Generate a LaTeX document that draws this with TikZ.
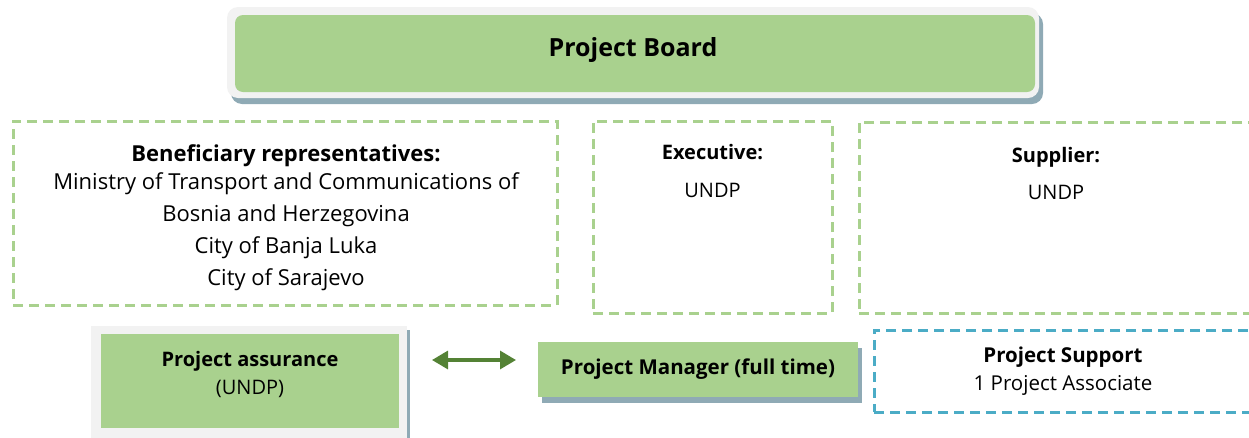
\documentclass[tikz,border=0pt]{standalone}
\usepackage{fontspec}
\setmainfont{Open Sans}
\usepackage{xcolor}
\usetikzlibrary{arrows.meta, shadows}

\definecolor{boardgreen}{HTML}{A9D18E}
\definecolor{framegray}{HTML}{F2F2F2}
\definecolor{shadowblue}{HTML}{8FAAB5}
\definecolor{arrowgreen}{HTML}{548235}
\definecolor{supportblue}{HTML}{4BACC6}

\begin{document}
\begin{tikzpicture}[x=1pt, y=-1pt,
    frame/.style={fill=framegray, outer sep=0pt, inner sep=0pt},
    board/.style={fill=boardgreen, outer sep=0pt, align=center},
    group/.style={draw=boardgreen, line width=3pt, dash pattern=on 10pt off 6pt, outer sep=0pt, align=center},
    support/.style={draw=supportblue, line width=3pt, dash pattern=on 10pt off 6pt, outer sep=0pt, align=center},
    shade/.style 2 args={drop shadow={shadow xshift=#1, shadow yshift=-#2, fill=shadowblue, opacity=1}},
    arr/.style={{Triangle[length=16pt, width=18pt]}-{Triangle[length=16pt, width=18pt]}, line width=3.2pt, draw=arrowgreen},
]
\useasboundingbox (0,0) rectangle (1249,437);
\clip (0,0) rectangle (1249,437);

\node[frame, rounded corners=11pt, minimum width=812pt, minimum height=91pt, shade={4pt}{6pt}] (boardframe) at (633,52.5) {};
\node[board, rounded corners=8pt, minimum width=800pt, minimum height=77pt] (board) at (635,53.5) {};
\node[font=\fontsize{25}{30}\selectfont\bfseries] (boardlabel) at (633,50) {Project Board};

\node[group, minimum width=544pt, minimum height=184pt] (benef) at (285,213) {};
\node[align=center, font=\fontsize{22}{32}\selectfont] (beneflabel) at (286,218)
    {\textbf{Beneficiary representatives:}\\[-4pt]Ministry of Transport and Communications of\\Bosnia and Herzegovina\\City of Banja Luka\\City of Sarajevo};
\node[group, minimum width=239pt, minimum height=192pt] (exec) at (712.5,217) {};
\node[group, minimum width=392pt, minimum height=191pt] (supp) at (1055,217.5) {};
\node[align=center, font=\fontsize{20}{38}\selectfont] (execlabel) at (712.5,171) {\textbf{Executive:}\\UNDP};
\node[align=center, font=\fontsize{20}{37}\selectfont] (supplabel) at (1056,173.5) {\textbf{Supplier:}\\UNDP};

\node[frame, minimum width=316pt, minimum height=125pt, shade={3pt}{4pt}] (assurframe) at (249,388.5) {};
\node[board, minimum width=298pt, minimum height=94pt] (assur) at (250,381) {};
\node[align=center, font=\fontsize{20}{28}\selectfont] (assurlabel) at (250,374) {\textbf{Project assurance}\\(UNDP)};

\node[board, shade={4pt}{6pt}, minimum width=320pt, minimum height=55pt, font=\fontsize{20.5}{24}\selectfont\bfseries] (pm) at (698,369.5)
    {Project Manager (full time)};

\node[support, minimum width=378pt, minimum height=82pt, font=\fontsize{20.5}{28}\selectfont] (psupport) at (1063,371)
    {\textbf{Project Support}\\1 Project Associate};

\draw[arr, shorten <=25pt, shorten >=22pt] ([yshift=28.5pt]assurframe.east) -- ([yshift=9.5pt]pm.west);

\end{tikzpicture}
\end{document}
